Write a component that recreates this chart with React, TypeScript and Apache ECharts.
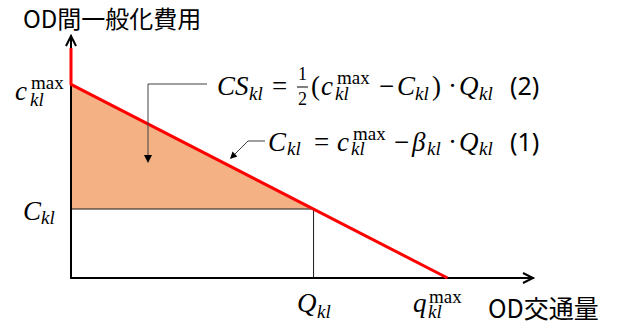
import React, { useEffect, useRef } from "react";
import * as echarts from "echarts";

// ---- chart values (axis units) ----
const xMin = 0;
const xMax = 100;
const yMin = 0;
const yMax = 100;
const cMax = 80; // c_kl^max
const qMax = 81.5; // q_kl^max
const Q = 52.5; // Q_kl
const C = 28.5; // C_kl
const yRedTop = 95; // top of red segment along the y axis

const demandX = [0, 0, qMax];
const demandY = [yRedTop, cMax, 0];
const surplusX = [0, Q, 0];
const surplusY = [cMax, C, C];
const guideX = [0, Q, Q];
const guideY = [C, C, 0];

// ---- layout / styles ----
const GRID = { left: 71, top: 36, width: 462, height: 242 };
const SERIF = '"Liberation Serif", serif';
const SANS = '"Noto Sans", "Liberation Sans", sans-serif';
const CJK = '"Noto Sans CJK JP", "Noto Sans", sans-serif';

type Kind = "i" | "u" | "s";
type Tok = [string, number, number, number, Kind];

function txt(t: string, x: number, b: number, size: number, kind: Kind) {
  const k = kind === "s" ? 0.388 : 0.3375;
  return {
    type: "text",
    silent: true,
    z: 10,
    style: {
      text: t,
      x,
      y: b - k * size,
      fill: "#000",
      fontSize: size,
      fontFamily: kind === "s" ? SANS : SERIF,
      fontStyle: kind === "i" ? "italic" : "normal",
      align: "left",
      verticalAlign: "middle",
    },
  };
}

const M = 27; // main math size
const S = 19; // sub/superscript size

const yLabelCmax: Tok[] = [
  ["c", 15, 100, M, "i"],
  ["max", 31, 89, S, "u"],
  ["kl", 30, 106, S, "i"],
];
const yLabelC: Tok[] = [
  ["C", 23, 220, M, "i"],
  ["kl", 41, 224, S, "i"],
];
const xLabelQ: Tok[] = [
  ["Q", 297, 312, M, "i"],
  ["kl", 317, 318, S, "i"],
];
const xLabelQmax: Tok[] = [
  ["q", 413, 312, M, "i"],
  ["max", 429, 303, S, "u"],
  ["kl", 428, 318, S, "i"],
];
const formula2: Tok[] = [
  ["CS", 217, 95, M, "i"],
  ["kl", 249, 100, S, "i"],
  ["=", 272, 95, M, "u"],
  ["1", 298, 80, 18, "u"],
  ["2", 298, 105, 18, "u"],
  ["(", 311, 95, M, "u"],
  ["c", 321, 95, M, "i"],
  ["max", 337, 84, S, "u"],
  ["kl", 335, 100, S, "i"],
  ["\u2212", 379, 95, M, "u"],
  ["C", 397, 95, M, "i"],
  ["kl", 415, 100, S, "i"],
  [")", 432, 95, M, "u"],
  ["\u00b7", 448, 95, M, "u"],
  ["Q", 459, 95, M, "i"],
  ["kl", 479, 100, S, "i"],
  ["(2)", 510, 95, 25, "s"],
];
const formula1: Tok[] = [
  ["C", 268, 151, M, "i"],
  ["kl", 287, 155, S, "i"],
  ["=", 314, 151, M, "u"],
  ["c", 337, 151, M, "i"],
  ["max", 353, 140, S, "u"],
  ["kl", 351, 155, S, "i"],
  ["\u2212", 394, 151, M, "u"],
  ["\u03b2", 412, 151, M, "i"],
  ["kl", 427, 155, S, "i"],
  ["\u00b7", 448, 151, M, "u"],
  ["Q", 459, 151, M, "i"],
  ["kl", 479, 155, S, "i"],
  ["(1)", 510, 151, 25, "s"],
];

export default function App() {
  const ref = useRef<HTMLDivElement>(null);

  useEffect(() => {
    document.body.style.margin = "0";
    if (!ref.current) return;
    const chart = echarts.init(ref.current, undefined, { renderer: "svg" });

    const gx0 = GRID.left;
    const gx1 = GRID.left + GRID.width;
    const gy0 = GRID.top;
    const gy1 = GRID.top + GRID.height;

    const tokens = [
      ...yLabelCmax,
      ...yLabelC,
      ...xLabelQ,
      ...xLabelQmax,
      ...formula2,
      ...formula1,
    ].map((t) => txt(t[0], t[1], t[2], t[3], t[4]));

    const callout = "#404040";

    chart.setOption({
      animation: false,
      grid: { ...GRID, containLabel: false },
      xAxis: {
        type: "value",
        min: xMin,
        max: xMax,
        z: 3,
        axisLine: { show: true, lineStyle: { color: "#000", width: 2 } },
        axisTick: { show: false },
        axisLabel: { show: false },
        splitLine: { show: false },
      },
      yAxis: {
        type: "value",
        min: yMin,
        max: yMax,
        z: 3,
        axisLine: { show: true, lineStyle: { color: "#000", width: 2 } },
        axisTick: { show: false },
        axisLabel: { show: false },
        splitLine: { show: false },
      },
      series: [
        {
          type: "custom",
          z: 1,
          silent: true,
          clip: false,
          data: [[0, 0]],
          renderItem: (_p: any, api: any) => ({
            type: "polygon",
            shape: {
              points: surplusX.map((x, i) => api.coord([x, surplusY[i]])),
            },
            style: { fill: "#F4B183" },
          }),
        },
        {
          type: "line",
          z: 2,
          silent: true,
          clip: false,
          symbol: "none",
          data: guideX.map((x, i) => [x, guideY[i]]),
          lineStyle: { color: "#1a1a1a", width: 1 },
        },
        {
          type: "line",
          z: 5,
          silent: true,
          clip: false,
          symbol: "none",
          data: demandX.map((x, i) => [x, demandY[i]]),
          lineStyle: { color: "#FF0000", width: 3 },
        },
      ],
      graphic: [
        // axis arrowheads
        {
          type: "polyline",
          silent: true,
          z: 6,
          shape: { points: [[gx0 - 5, gy0 + 10], [gx0, gy0], [gx0 + 5, gy0 + 10]] },
          style: { stroke: "#000", lineWidth: 2, fill: "none" },
        },
        {
          type: "polyline",
          silent: true,
          z: 6,
          shape: { points: [[gx1 - 10, gy1 - 5], [gx1, gy1], [gx1 - 10, gy1 + 5]] },
          style: { stroke: "#000", lineWidth: 2, fill: "none" },
        },
        // axis titles
        {
          type: "text",
          silent: true,
          style: {
            text: "OD間一般化費用",
            x: 23,
            y: 17,
            fontSize: 24,
            fontFamily: CJK,
            fill: "#000",
            verticalAlign: "middle",
          },
        },
        {
          type: "text",
          silent: true,
          style: {
            text: "OD交通量",
            x: 488,
            y: 307,
            fontSize: 25,
            fontFamily: CJK,
            fill: "#000",
            verticalAlign: "middle",
          },
        },
        // fraction bar
        {
          type: "line",
          silent: true,
          shape: { x1: 297, y1: 87, x2: 308, y2: 87 },
          style: { stroke: "#000", lineWidth: 1 },
        },
        // callout for (2)
        {
          type: "polyline",
          silent: true,
          z: 6,
          shape: { points: [[207, 84], [148, 84], [148, 156]] },
          style: { stroke: callout, lineWidth: 1, fill: "none" },
        },
        {
          type: "polygon",
          silent: true,
          z: 6,
          shape: { points: [[144, 155], [152, 155], [148, 163]] },
          style: { fill: "#000" },
        },
        // callout for (1)
        {
          type: "polyline",
          silent: true,
          z: 6,
          shape: { points: [[265, 141], [248, 141], [234, 155]] },
          style: { stroke: callout, lineWidth: 1, fill: "none" },
        },
        {
          type: "polygon",
          silent: true,
          z: 6,
          shape: { points: [[230, 159], [237.4, 156.5], [232.5, 151.6]] },
          style: { fill: "#000" },
        },
        ...tokens,
      ],
    });

    return () => chart.dispose();
  }, []);

  return <div ref={ref} style={{ width: 619, height: 329 }} />;
}
